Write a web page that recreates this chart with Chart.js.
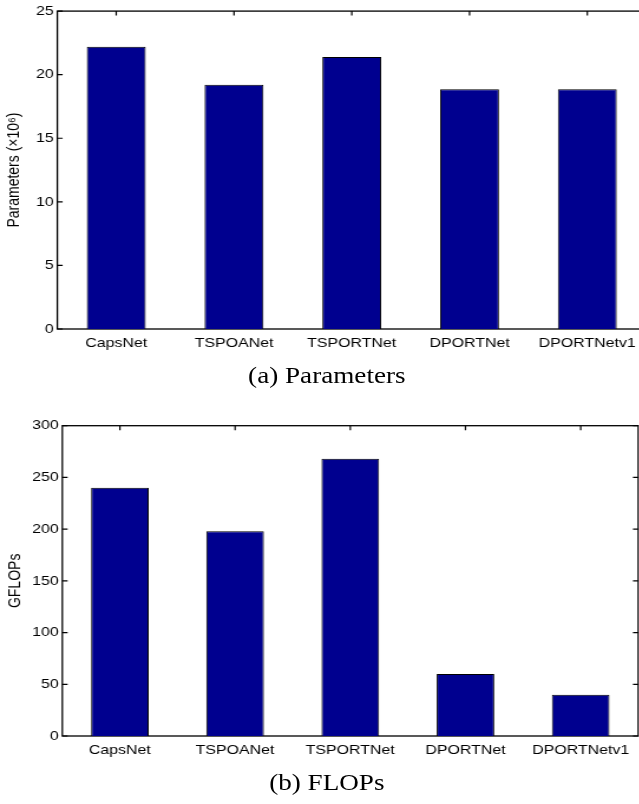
<!DOCTYPE html>
<html>
<head>
<meta charset="utf-8">
<script src="https://cdn.jsdelivr.net/npm/chart.js@4.4.1/dist/chart.umd.min.js"></script>
<style>
    html, body { margin: 0; padding: 0; background: #fff; overflow: hidden; width: 639px; height: 804px; }
    #clip { position: absolute; left: 0; top: 0; width: 639px; height: 804px; overflow: hidden; }
    /* the reference figure is stretched sideways, so draw narrow and widen it */
    #figure { position: absolute; left: 0; top: 0; width: 542px; height: 804px; transform: scaleX(1.18); transform-origin: 0 0; }
    .panel { position: absolute; left: 0; }
    .caption { position: absolute; left: 0; width: 554px; text-align: center; font-family: "Liberation Serif", "Times New Roman", serif; font-size: 23px; line-height: 26px; color: #000; }
</style>
</head>
<body>
<div id="clip">
<div id="figure">
    <div class="panel" style="top:0px"><canvas id="params-chart" width="560" height="360"></canvas></div>
    <div class="caption" style="top:363px">(a) Parameters</div>
    <div class="panel" style="top:400px"><canvas id="flops-chart" width="552" height="360"></canvas></div>
    <div class="caption" style="top:770px">(b) FLOPs</div>
</div>
</div>
<script>
/**
 * Data
 */
const categories = ["CapsNet", "TSPOANet", "TSPORTNet", "DPORTNet", "DPORTNetv1"];
const paramValues = [22.2, 19.2, 21.4, 18.85, 18.85];
const flopValues = [240, 198, 268, 60, 40];
const paramTicks = [0, 5, 10, 15, 20, 25];
const flopTicks = [0, 50, 100, 150, 200, 250, 300];

const tickFont = { family: "'Liberation Sans', Arial, Helvetica, sans-serif", size: 13.5 };
const TICK_LEN = 4.5;

/**
 * Matlab-like box: frame plus inward ticks on every side
 */
const boxPlugin = {
    id: 'box',
    beforeDatasetsDraw(chart) {
        const ctx = chart.ctx;
        const area = chart.chartArea;
        const xScale = chart.scales.x;
        const yScale = chart.scales.y;
        ctx.save();
        ctx.strokeStyle = '#000';
        ctx.lineWidth = 1.2;
        ctx.beginPath();
        for (let i = 0; i < xScale.ticks.length; i++) {
            const px = xScale.getPixelForTick(i);
            ctx.moveTo(px, area.top);
            ctx.lineTo(px, area.top + TICK_LEN);
            ctx.moveTo(px, area.bottom);
            ctx.lineTo(px, area.bottom - TICK_LEN);
        }
        for (const tick of yScale.ticks) {
            const py = yScale.getPixelForValue(tick.value);
            ctx.moveTo(area.left, py);
            ctx.lineTo(area.left + TICK_LEN, py);
            ctx.moveTo(area.right, py);
            ctx.lineTo(area.right - TICK_LEN, py);
        }
        ctx.stroke();
        ctx.lineWidth = 1.3;
        ctx.strokeRect(area.left, area.top, area.right - area.left, area.bottom - area.top);
        ctx.restore();
    }
};

function makeBarChart(canvasId, values, tickValues, yTitle, geom) {
    const ctx = document.getElementById(canvasId);
    return new Chart(ctx, {
        type: 'bar',
        data: {
            labels: categories,
            datasets: [{
                data: values,
                backgroundColor: '#00008F',
                borderColor: '#000',
                borderWidth: 1,
                barPercentage: 0.5,
                categoryPercentage: 1.0
            }]
        },
        options: {
            animation: false,
            responsive: false,
            devicePixelRatio: 1,
            layout: {
                padding: { left: 0, top: geom.top, right: geom.right, bottom: 0 }
            },
            plugins: {
                legend: { display: false },
                tooltip: { enabled: false }
            },
            scales: {
                x: {
                    grid: { display: false, drawTicks: false },
                    border: { display: false },
                    ticks: { color: '#000', font: tickFont, padding: 6, maxRotation: 0, autoSkip: false },
                    afterFit: function(scale) { scale.height = geom.xHeight; }
                },
                y: {
                    min: tickValues[0],
                    max: tickValues[tickValues.length - 1],
                    grid: { display: false, drawTicks: false },
                    border: { display: false },
                    ticks: { color: '#000', font: tickFont, padding: 3 },
                    afterBuildTicks: function(scale) {
                        scale.ticks = tickValues.map(v => ({ value: v }));
                    },
                    afterFit: function(scale) { scale.width = geom.yWidth; },
                    title: {
                        display: true,
                        text: yTitle,
                        color: '#000',
                        font: { family: tickFont.family, size: 14 },
                        padding: { top: geom.titlePad, bottom: 0 }
                    }
                }
            }
        },
        plugins: [boxPlugin]
    });
}

// top panel runs past the right edge of the page, as in the reference
const paramsChart = makeBarChart('params-chart', paramValues, paramTicks, 'Parameters (\u00d710\u2076)',
    { top: 10.7, right: 12.4, xHeight: 31, yWidth: 48.6, titlePad: 3.5 });

const flopsChart = makeBarChart('flops-chart', flopValues, flopTicks, 'GFLOPs',
    { top: 25.7, right: 11.1, xHeight: 24, yWidth: 52.8, titlePad: 4.5 });
</script>
</body>
</html>
